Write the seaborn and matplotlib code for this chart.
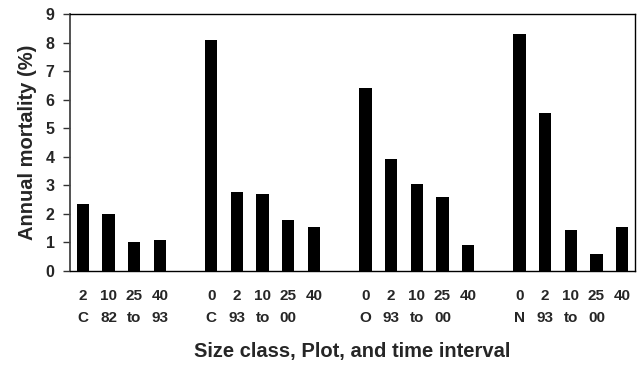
import matplotlib
matplotlib.use("Agg")
import matplotlib.pyplot as plt
import seaborn as sns
import pandas as pd

# ---- data ----
group_labels = ["C 82 to 93", "C 93 to 00", "O 93 to 00", "N 93 to 00"]
size_classes = [
    ["2", "10", "25", "40"],
    ["0", "2", "10", "25", "40"],
    ["0", "2", "10", "25", "40"],
    ["0", "2", "10", "25", "40"],
]
mortality = [
    [2.35, 2.0, 1.0, 1.1],
    [8.1, 2.78, 2.7, 1.8, 1.53],
    [6.43, 3.94, 3.04, 2.6, 0.9],
    [8.3, 5.53, 1.44, 0.6, 1.53],
]
y_ticks = [0, 1, 2, 3, 4, 5, 6, 7, 8, 9]

# ---- build table ----
rows = []
slot = 0
for g, (glab, sizes, vals) in enumerate(zip(group_labels, size_classes, mortality)):
    words = glab.split(" ")
    for i, (s, v) in enumerate(zip(sizes, vals)):
        w = words[i] if i < len(words) else ""
        rows.append({"pos": slot, "value": v, "label": f"{s}\n{w}"})
        slot += 1
    slot += 1  # gap between groups
df = pd.DataFrame(rows)

sns.set_theme(style="white")
plt.rcParams["font.family"] = ["Liberation Sans", "DejaVu Sans"]
plt.rcParams["font.weight"] = "bold"

fig = plt.figure(figsize=(6.38, 3.70), dpi=100)
ax = fig.add_axes([70 / 638, 1 - 271 / 370, 565 / 638, (271 - 14.3) / 370])

sns.barplot(data=df, x="pos", y="value", native_scale=True, color="black",
            saturation=1, width=0.48, edgecolor="black", linewidth=0, ax=ax)

ax.set_xlim(-0.5, df["pos"].max() + 0.5)
ax.set_ylim(0, 9)
ax.set_yticks(y_ticks)
ax.set_yticklabels([str(t) for t in y_ticks], fontsize=11.5, fontweight="bold")
ax.set_xticks(df["pos"])
ax.set_xticklabels(df["label"], fontsize=11, fontweight="bold", linespacing=1.75)

ax.tick_params(axis="x", length=0, pad=13)
ax.tick_params(axis="y", direction="out", length=5, width=1, color="#333333",
               pad=6, left=True)

for sp in ax.spines.values():
    sp.set_visible(True)
    sp.set_color("black")
    sp.set_linewidth(1)
ax.spines["left"].set_color("#444444")
ax.spines["left"].set_linewidth(1.3)

ax.set_ylabel("Annual mortality (%)", fontsize=14.5, fontweight="bold", labelpad=6)
ax.set_xlabel("Size class, Plot, and time interval", fontsize=14.5,
              fontweight="bold", labelpad=12)

fig.savefig("out.png", dpi=100)
